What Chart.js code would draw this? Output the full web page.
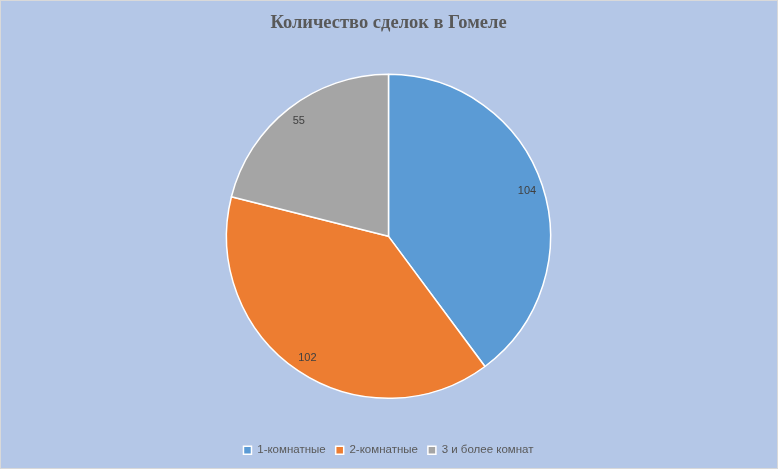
<!DOCTYPE html>
<html>
<head>
<meta charset="utf-8">
<script src="https://cdn.jsdelivr.net/npm/chart.js@4.4.1/dist/chart.umd.min.js"></script>
<style>
  html, body { margin: 0; padding: 0; }
  #wrap { position: relative; width: 778px; height: 469px; background: #b4c7e7; }
  #frame { position: absolute; left: 0; top: 0; width: 778px; height: 469px; box-sizing: border-box; border: 1px solid #d9d9d9; pointer-events: none; }
  canvas { display: block; }
</style>
</head>
<body>
<div id="wrap"><canvas id="dealsPie" width="778" height="469"></canvas><div id="frame"></div></div>
<script>
var chartTitle = "Количество сделок в Гомеле"
var roomTypes = ["1-комнатные", "2-комнатные", "3 и более комнат"]
var dealCounts = [104, 102, 55]
var sliceColors = ["#5b9bd5", "#ed7d31", "#a5a5a5"]

// draws the numbers inside each slice, near the outer edge
var sliceLabels = {
    id: "sliceLabels",
    afterDatasetsDraw(chart) {
        var ctx = chart.ctx
        var meta = chart.getDatasetMeta(0)
        ctx.save()
        ctx.font = "11px 'Liberation Sans', Arial, sans-serif"
        ctx.fillStyle = "#404040"
        ctx.textAlign = "center"
        ctx.textBaseline = "middle"
        meta.data.forEach((arc, i) => {
            var p = arc.getProps(["x", "y", "startAngle", "endAngle", "outerRadius"], true)
            var mid = (p.startAngle + p.endAngle) / 2
            var r = p.outerRadius * 0.9
            ctx.fillText(dealCounts[i], p.x + Math.cos(mid) * r, p.y + Math.sin(mid) * r)
        })
        ctx.restore()
    }
}

new Chart(document.getElementById("dealsPie").getContext("2d"), {
    type: "pie",
    data: {
        labels: roomTypes,
        datasets: [{
            data: dealCounts,
            backgroundColor: sliceColors,
            borderColor: "#ffffff",
            borderWidth: 1.5,
            radius: 162,
        }],
    },
    options: {
        responsive: false,
        animation: false,
        devicePixelRatio: 1,
        layout: { padding: { top: 0, bottom: 3, left: 0, right: 1 } },
        plugins: {
            title: {
                display: true,
                text: chartTitle,
                color: "#595959",
                font: { family: "'Liberation Serif', 'DejaVu Serif', serif", size: 18.5, weight: "bold" },
                padding: { top: 12, bottom: 4 },
            },
            legend: {
                position: "bottom",
                labels: {
                    color: "#595959",
                    font: { family: "'Liberation Sans', Arial, sans-serif", size: 11.5 },
                    boxWidth: 8,
                    boxHeight: 8,
                    padding: 10,
                },
            },
            tooltip: { enabled: false },
        },
    },
    plugins: [sliceLabels],
})
</script>
</body>
</html>
